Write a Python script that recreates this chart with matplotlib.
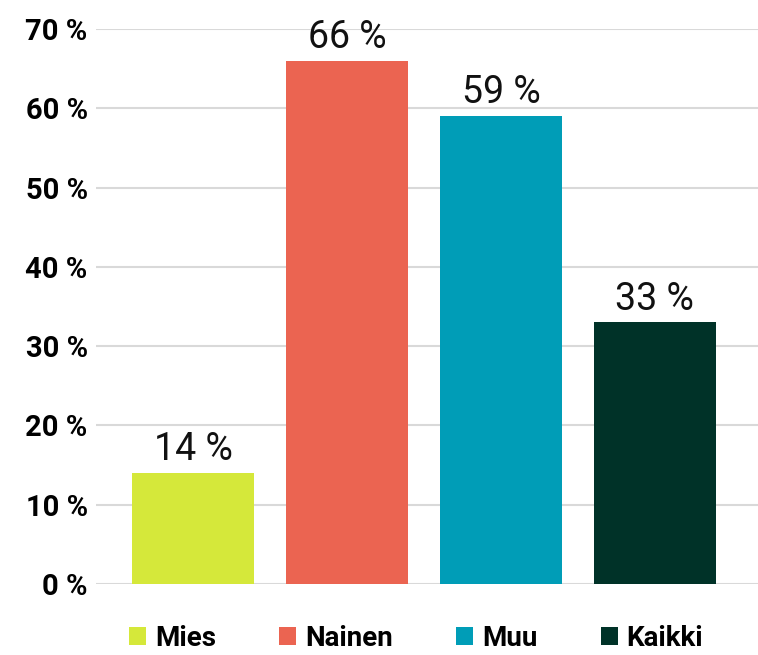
import matplotlib
matplotlib.use('Agg')
import matplotlib.pyplot as plt
from matplotlib.patches import Patch

categories = ['Mies', 'Nainen', 'Muu', 'Kaikki']
values = [14, 66, 59, 33]
colors = ['#D5E83A', '#EB6451', '#009DB7', '#003228']
yticks = [0, 10, 20, 30, 40, 50, 60, 70]

plt.rcParams['font.family'] = ['Roboto', 'DejaVu Sans']

fig = plt.figure(figsize=(7.58, 6.55), dpi=100)
ax = fig.add_axes([96/758, 1 - 584/655, 1 - 96/758, (584 - 29)/655])

x = list(range(len(categories)))
bars = ax.bar(x, values, width=0.79, color=colors, zorder=2)

for xi, v in zip(x, values):
    ax.text(xi, v + 0.6, '%d %%' % v, ha='center', va='bottom', fontsize=27,
            color='#111111', clip_on=False)

ax.set_ylim(0, 70)
ax.set_xlim(-0.63, 3.67)
ax.set_yticks(yticks)
ax.set_yticklabels(['%d %%' % t for t in yticks], fontsize=21, fontweight='bold')
ax.set_xticks([])
ax.yaxis.grid(True, color='#d9d9d9', linewidth=1.5, zorder=0)
ax.tick_params(axis='y', length=0, pad=6)
for s in ax.spines.values():
    s.set_visible(False)

# legend sits right at the bottom edge like the original
handles = [Patch(facecolor=c, edgecolor='none') for c in colors]
fig.legend(handles, categories, loc='lower center', ncol=4, frameon=False,
           bbox_to_anchor=(0.549, -0.016), prop={'size': 20, 'weight': 'bold'},
           borderpad=0, handlelength=0.62, handleheight=0.62, handletextpad=0.32,
           columnspacing=2.27)

fig.savefig('out.png', dpi=100)
